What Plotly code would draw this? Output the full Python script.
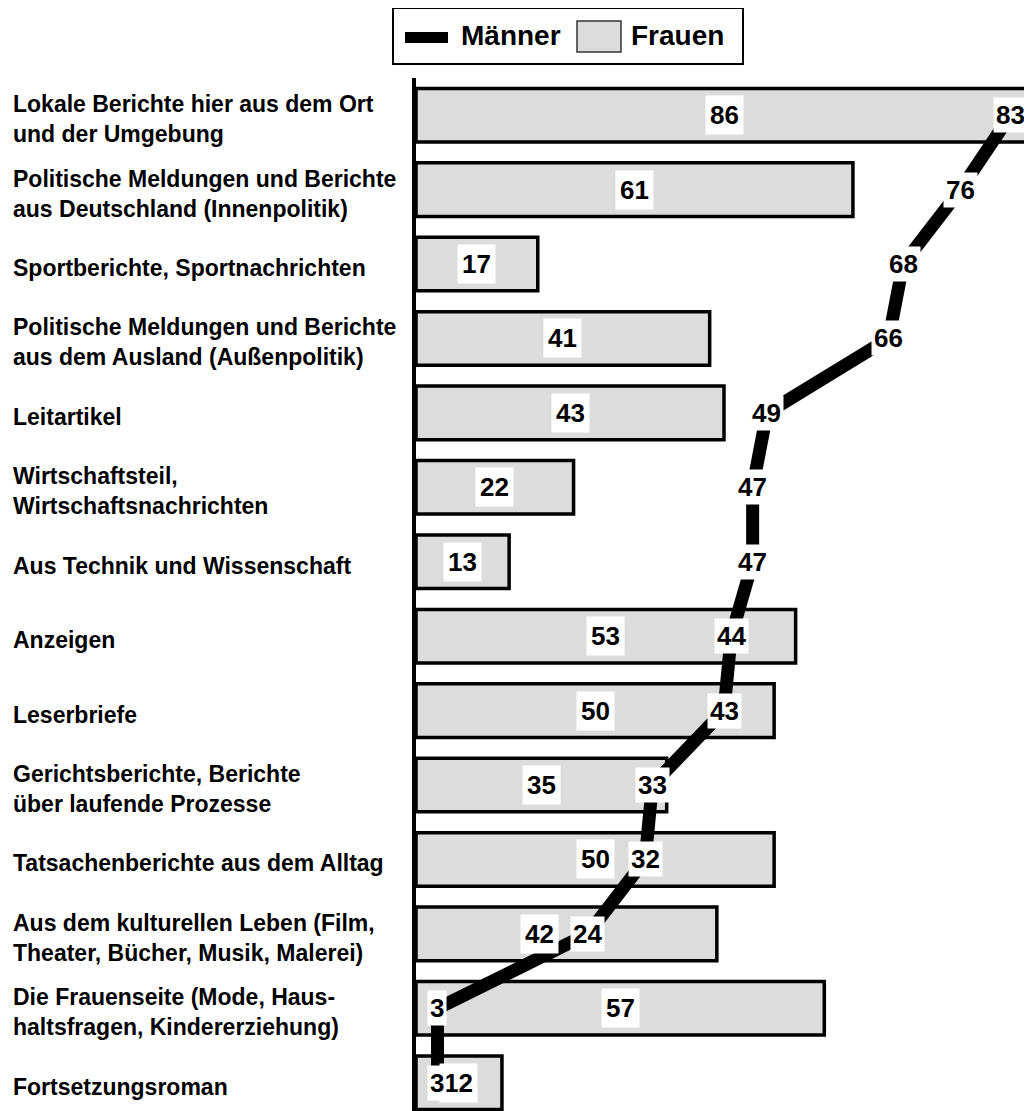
import plotly.graph_objects as go

categories = [
    "Lokale Berichte hier aus dem Ort<br>und der Umgebung",
    "Politische Meldungen und Berichte<br>aus Deutschland (Innenpolitik)",
    "Sportberichte, Sportnachrichten",
    "Politische Meldungen und Berichte<br>aus dem Ausland (Außenpolitik)",
    "Leitartikel",
    "Wirtschaftsteil,<br>Wirtschaftsnachrichten",
    "Aus Technik und Wissenschaft",
    "Anzeigen",
    "Leserbriefe",
    "Gerichtsberichte, Berichte<br>über laufende Prozesse",
    "Tatsachenberichte aus dem Alltag",
    "Aus dem kulturellen Leben (Film,<br>Theater, Bücher, Musik, Malerei)",
    "Die Frauenseite (Mode, Haus-<br>haltsfragen, Kindererziehung)",
    "Fortsetzungsroman",
]
frauen = [86, 61, 17, 41, 43, 22, 13, 53, 50, 35, 50, 42, 57, 12]
maenner = [83, 76, 68, 66, 49, 47, 47, 44, 43, 33, 32, 24, 3, 3]

# page has an 8px body margin; work in screenshot pixel coordinates
OFF = 8
SW, SH = 1032, 1111
W, H = SW - OFF, SH - OFF
PLOT_L, PLOT_T = 416, 78          # screenshot pixels
ML, MT, MR, MB = PLOT_L - OFF, PLOT_T - OFF, 0, 0
PW, PH = W - ML - MR, H - MT - MB
XMAX = 86
SCALE = PW / XMAX


def px_x(p):
    return (p - PLOT_L) / PW


def px_y(p):
    return (SH - p) / PH


FONT = "Liberation Sans, Arial, sans-serif"

fig = go.Figure()
fig.add_trace(go.Bar(
    x=frauen, y=categories, orientation="h", name="Frauen",
    marker=dict(color="#dcdcdc", line=dict(color="black", width=3.5)),
    width=0.72, showlegend=False, hoverinfo="x+y",
))
fig.add_trace(go.Scatter(
    x=maenner, y=categories, mode="lines", name="Männer",
    line=dict(color="black", width=13), showlegend=False,
))

annotations = []
for cat in categories:
    annotations.append(dict(
        xref="paper", yref="y", x=px_x(11), y=cat, xanchor="left", yanchor="middle",
        text=cat, align="left", showarrow=False, yshift=-4,
        font=dict(family=FONT, size=23, color="black", weight="bold"),
    ))
for cat, v, m in zip(categories, frauen, maenner):
    dist = (m - v / 2) * SCALE
    shift = -(48 - dist) if 0 < dist < 48 else 0
    annotations.append(dict(
        xref="x", yref="y", x=v / 2, y=cat, text=str(v), showarrow=False,
        bgcolor="white", borderpad=4, xshift=shift,
        font=dict(family=FONT, size=26, color="black", weight="bold"),
    ))
for cat, v in zip(categories, maenner):
    annotations.append(dict(
        xref="x", yref="y", x=v, y=cat, text=str(v), showarrow=False,
        bgcolor="white", borderpad=2,
        font=dict(family=FONT, size=26, color="black", weight="bold"),
    ))

# manual legend
shapes = [
    dict(type="rect", xref="paper", yref="paper", x0=px_x(393), x1=px_x(743),
         y0=px_y(64), y1=px_y(8), line=dict(color="black", width=2), fillcolor="white"),
    dict(type="rect", xref="paper", yref="paper", x0=px_x(405), x1=px_x(448),
         y0=px_y(43), y1=px_y(32), line=dict(width=0), fillcolor="black"),
    dict(type="rect", xref="paper", yref="paper", x0=px_x(577), x1=px_x(621),
         y0=px_y(52), y1=px_y(21), line=dict(color="#333333", width=1.5), fillcolor="#dcdcdc"),
]
annotations.append(dict(xref="paper", yref="paper", x=px_x(459), y=px_y(36),
                        xanchor="left", yanchor="middle", text="Männer", showarrow=False,
                        font=dict(family=FONT, size=28, color="black", weight="bold")))
annotations.append(dict(xref="paper", yref="paper", x=px_x(629), y=px_y(36),
                        xanchor="left", yanchor="middle", text="Frauen", showarrow=False,
                        font=dict(family=FONT, size=28, color="black", weight="bold")))

fig.update_layout(
    width=W, height=H,
    margin=dict(l=ML, r=MR, t=MT, b=MB, autoexpand=False),
    paper_bgcolor="white", plot_bgcolor="white",
    xaxis=dict(range=[0, XMAX], visible=False, fixedrange=True),
    yaxis=dict(range=[13.38, -0.5], showticklabels=False, showgrid=False, zeroline=False,
               showline=True, linecolor="black", linewidth=4, ticks=""),
    annotations=annotations, shapes=shapes, showlegend=False,
)

fig.write_html("out.html")
